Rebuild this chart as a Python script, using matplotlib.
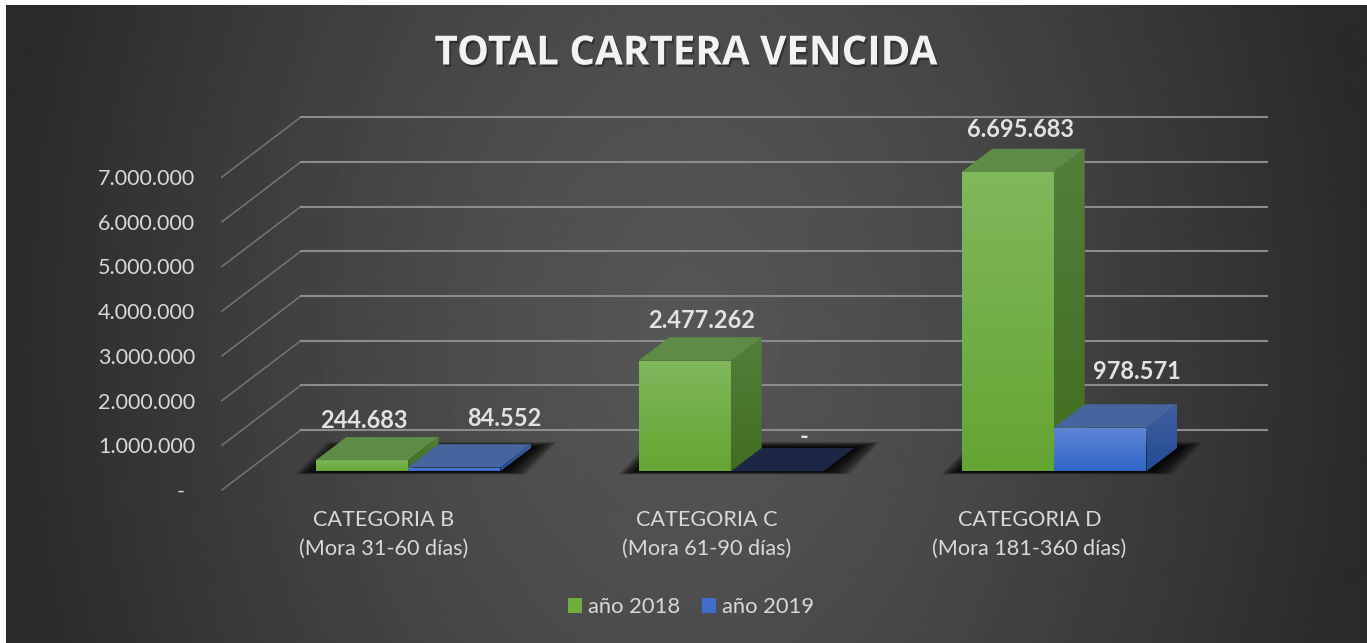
import numpy as np
import matplotlib
matplotlib.use("Agg")
import matplotlib.pyplot as plt
import matplotlib.patheffects as pe
from matplotlib.colors import to_rgb
from matplotlib.patches import Patch, Polygon

# datos
categorias = ["CATEGORIA B\n(Mora 31-60 días)", "CATEGORIA C\n(Mora 61-90 días)", "CATEGORIA D\n(Mora 181-360 días)"]
anio_2018 = [244683, 2477262, 6695683]
anio_2019 = [84552, 0, 978571]
etiquetas_2018 = ["244.683", "2.477.262", "6.695.683"]
etiquetas_2019 = ["84.552", "-", "978.571"]
ticks = [0, 1000000, 2000000, 3000000, 4000000, 5000000, 6000000, 7000000]
tick_labels = ["-", "1.000.000", "2.000.000", "3.000.000", "4.000.000", "5.000.000", "6.000.000", "7.000.000"]

W, H = 1367, 643
FONT = "Lato"

# escala del dibujo (px por unidad)
PX_CAT = 323.0
PX_VAL = 44.7 / 1e6
X_ORIG, Y_ORIG = 383.4, 490.0
DEPTH_X, DEPTH_Y = 79.0, 60.0
D0, D1 = 0.312, 0.70
BAR_W = 92.4 / PX_CAT

# offsets de las etiquetas (px)
OFF_2018 = [(2, 40), (17, 40), (13, 42)]
OFF_2019 = [(50, 49), (27, 35), (37, 56)]


def P(x, v, d=0.0):
    # proyeccion oblicua: d = profundidad 0..1
    return (x + d * DEPTH_X / PX_CAT, v + d * DEPTH_Y / PX_VAL)


def v_px(y_px):
    return (Y_ORIG - y_px) / PX_VAL


def x_px(x):
    return (x - X_ORIG) / PX_CAT


def grad_face(ax, verts, c_top, c_bot, z):
    xs, ys = zip(*verts)
    t = np.linspace(0, 1, 64)[:, None, None]
    img = (1 - t) * np.array(to_rgb(c_top))[None, None, :] + t * np.array(to_rgb(c_bot))[None, None, :]
    im = ax.imshow(img, extent=(min(xs), max(xs), min(ys), max(ys)), aspect="auto",
                   origin="upper", interpolation="bilinear", zorder=z)
    im.set_clip_path(Polygon(verts, transform=ax.transData))


def draw_bar(ax, x0, x1, val, front, side, top, z):
    a = P(x0, val, D0); b = P(x1, val, D0)
    c = P(x1, val, D1); d = P(x0, val, D1)
    b0 = P(x1, 0, D0); a0 = P(x0, 0, D0); c0 = P(x1, 0, D1)
    grad_face(ax, [a0, b0, b, a], front[0], front[1], z)
    grad_face(ax, [b0, c0, c, b], side[0], side[1], z + 0.1)
    ax.add_patch(Polygon([a, b, c, d], closed=True, fc=top, ec="none", zorder=z + 0.2))


def draw_shadow(ax, i):
    # sombra difusa: capas del suelo de la barra, mas anchas que altas
    for k in np.linspace(1, 0, 18):
        l = (k * 20) / PX_CAT
        r = (k * 26) / PX_CAT
        up = (k * 6) / PX_VAL
        dn = (k * 3) / PX_VAL
        a = P(i - BAR_W, 0, D0); b = P(i + BAR_W, 0, D0)
        c = P(i + BAR_W, 0, D1); d = P(i - BAR_W, 0, D1)
        verts = [(a[0] - l, a[1] - dn), (b[0] + r, b[1] - dn), (c[0] + r, c[1] + up), (d[0] - l, d[1] + up)]
        ax.add_patch(Polygon(verts, closed=True, fc="black", ec="none", alpha=0.10, zorder=2))


fig = plt.figure(figsize=(W / 100, H / 100), dpi=100, facecolor="white")

# fondo degradado radial
bg = fig.add_axes([6 / W, 0, 1 - 6 / W, 1 - 5 / H])
yy, xx = np.mgrid[0:H, 0:W]
r = np.sqrt(((xx - 683) / 690.0) ** 2 + ((yy - 330) / 1000.0) ** 2)
r = np.clip(r, 0, 1)
g = 0x56 + (0x2a - 0x56) * r ** 1.3
bg.imshow(g / 255.0, cmap="gray", vmin=0, vmax=1, aspect="auto", interpolation="bilinear")
bg.axis("off")

ax = fig.add_axes([0, 0, 1, 1], facecolor="none")
xlim = (x_px(0), x_px(W))
ylim = (v_px(H), v_px(0))

# rejilla
for v in ticks:
    x_l = -0.5
    x_r = 2.49
    p0 = P(x_l, v, 0); p1 = P(x_l, v, 1); p2 = P(x_r, v, 1)
    ax.plot([p0[0], p1[0]], [p0[1], p1[1]], color="#757575", lw=1.1, zorder=1)
    ax.plot([p1[0], p2[0]], [p1[1], p2[1]], color="#8c8c8c", lw=1.5, zorder=1)

# sombras y barras
for i in range(3):
    draw_shadow(ax, i)

    draw_bar(ax, i - BAR_W, i, anio_2018[i], ("#80B85C", "#65A532"), ("#52803B", "#426E20"), "#5E8C47", 3)
    if anio_2019[i] > 0:
        draw_bar(ax, i, i + BAR_W, anio_2019[i], ("#5F86D6", "#3166C8"), ("#405F9E", "#234C92"), "#46659F", 4)
    else:
        ax.add_patch(Polygon([P(i, 0, D0), P(i + BAR_W, 0, D0), P(i + BAR_W, 0, D1), P(i, 0, D1)], closed=True,
                             fc="#1B2745", ec="none", zorder=2.5))

    for vals, labs, offs, cx in ((anio_2018, etiquetas_2018, OFF_2018, i - BAR_W / 2),
                                 (anio_2019, etiquetas_2019, OFF_2019, i + BAR_W / 2)):
        ax.annotate(labs[i], xy=P(cx, vals[i], D0), xytext=offs[i], textcoords="offset pixels",
                    ha="center", va="center", fontsize=17, fontweight="bold", family=FONT,
                    color="#E2E2E2", zorder=6)

    ax.text(i, v_px(534.5), categorias[i], ha="center", va="center", fontsize=15.6, family=FONT,
            color="#D9D9D9", linespacing=1.55, zorder=6)

# etiquetas eje y
for v, lab in zip(ticks, tick_labels):
    xt = x_px(195) if lab != "-" else x_px(185)
    ax.text(xt, v, lab, ha="right", va="center_baseline", fontsize=15.5, family=FONT, color="#D9D9D9", zorder=6)

# titulo
ax.text(x_px(686), v_px(54), "TOTAL CARTERA VENCIDA", ha="center", va="center", fontsize=29,
        fontweight="bold", family="Open Sans", color="#F2F2F2", zorder=7,
        path_effects=[pe.withSimplePatchShadow(offset=(1.2, -1.8), shadow_rgbFace="black", alpha=0.35)])

# leyenda
fs = 15.8
leg = ax.legend(handles=[Patch(fc="#6FAE3F", ec="none", label="año 2018"),
                         Patch(fc="#3F6FCB", ec="none", label="año 2019")],
                loc="center", bbox_to_anchor=(691 / W, 1 - 607 / H), ncols=2, frameon=False,
                prop={"family": FONT, "size": fs}, labelcolor="#D9D9D9",
                handlelength=0.65, handleheight=0.65, handletextpad=0.25, columnspacing=1.0,
                borderpad=0)
leg.set_zorder(7)

ax.set_xlim(*xlim)
ax.set_ylim(*ylim)
ax.axis("off")

fig.savefig("out.png", dpi=100)
